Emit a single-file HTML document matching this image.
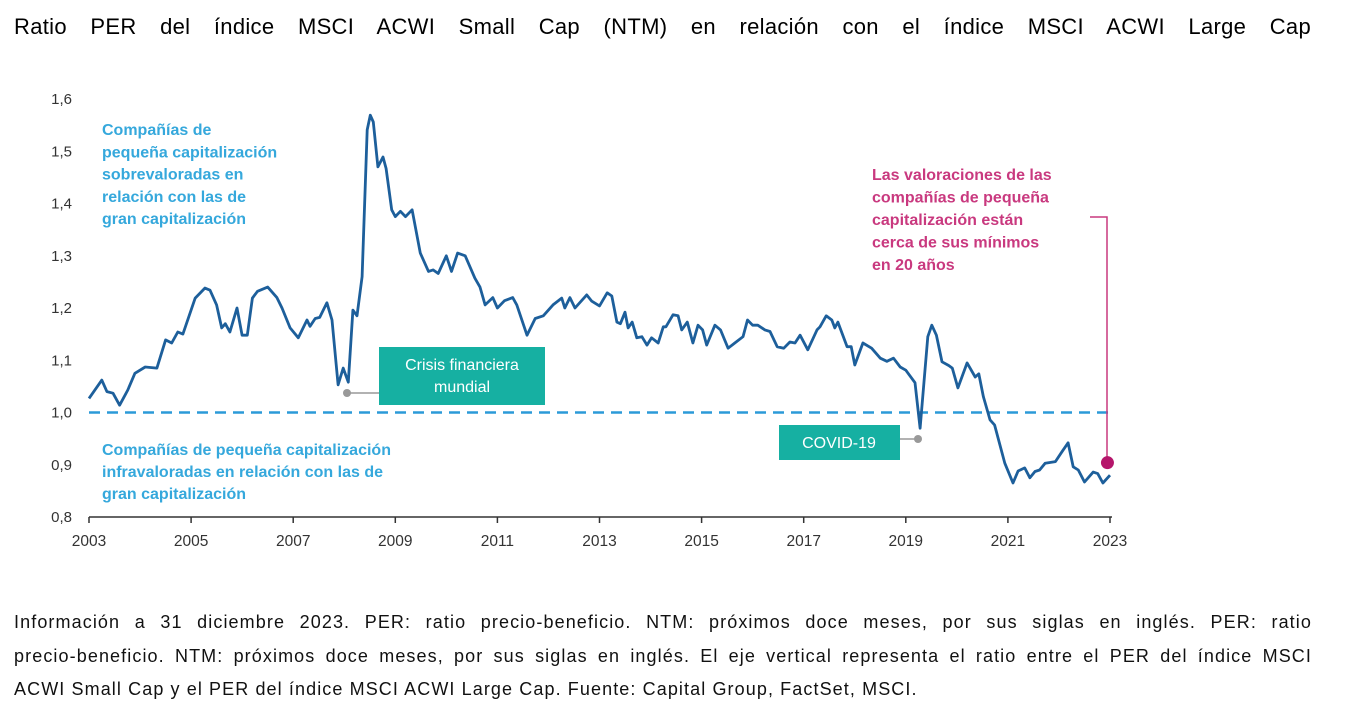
<!DOCTYPE html>
<html><head><meta charset="utf-8"><style>
html,body{margin:0;padding:0;background:#fff;width:1360px;height:725px;overflow:hidden}
.title{position:absolute;left:14px;top:14px;width:1297px;font:22px "Liberation Sans",sans-serif;color:#000;text-align:justify;text-align-last:justify;letter-spacing:0.3px}
.note{position:absolute;left:14px;top:606px;width:1298px;font:18px/33.5px "Liberation Sans",sans-serif;color:#111;letter-spacing:1.1px}
.note div{white-space:nowrap}
.note .j{text-align:justify;text-align-last:justify;white-space:normal}
</style></head><body>
<div class="title">Ratio PER del índice MSCI ACWI Small Cap (NTM) en relación con el índice MSCI ACWI Large Cap</div>
<svg id="chart" width="1360" height="600" style="position:absolute;left:0;top:0"></svg>
<div class="note"><div class="j">Información a 31 diciembre 2023. PER: ratio precio-beneficio. NTM: próximos doce meses, por sus siglas en inglés. PER: ratio</div><div class="j">precio-beneficio. NTM: próximos doce meses, por sus siglas en inglés. El eje vertical representa el ratio entre el PER del índice MSCI</div><div>ACWI Small Cap y el PER del índice MSCI ACWI Large Cap. Fuente: Capital Group, FactSet, MSCI.</div></div>
<script>
const dates=[2003.0,2003.25,2003.35,2003.47,2003.6,2003.76,2003.9,2004.1,2004.33,2004.5,2004.62,2004.74,2004.84,2005.08,2005.27,2005.37,2005.5,2005.6,2005.67,2005.76,2005.9,2006.0,2006.1,2006.2,2006.3,2006.5,2006.68,2006.78,2006.94,2007.1,2007.27,2007.33,2007.43,2007.52,2007.66,2007.76,2007.88,2007.98,2008.08,2008.17,2008.25,2008.35,2008.45,2008.51,2008.57,2008.66,2008.76,2008.82,2008.93,2009.0,2009.1,2009.2,2009.33,2009.49,2009.65,2009.74,2009.84,2010.0,2010.1,2010.22,2010.37,2010.56,2010.66,2010.76,2010.91,2011.0,2011.14,2011.3,2011.38,2011.58,2011.74,2011.9,2012.09,2012.26,2012.32,2012.42,2012.52,2012.75,2012.85,2013.0,2013.15,2013.24,2013.34,2013.41,2013.5,2013.56,2013.64,2013.73,2013.83,2013.93,2014.02,2014.15,2014.25,2014.3,2014.44,2014.54,2014.61,2014.72,2014.83,2014.93,2015.02,2015.1,2015.26,2015.37,2015.52,2015.65,2015.81,2015.9,2016.0,2016.1,2016.24,2016.34,2016.48,2016.61,2016.73,2016.83,2016.93,2017.08,2017.26,2017.32,2017.44,2017.55,2017.61,2017.67,2017.85,2017.93,2018.0,2018.16,2018.33,2018.5,2018.63,2018.76,2018.89,2019.0,2019.18,2019.28,2019.43,2019.51,2019.6,2019.71,2019.84,2019.91,2020.02,2020.2,2020.36,2020.43,2020.52,2020.65,2020.74,2020.94,2021.1,2021.2,2021.33,2021.43,2021.53,2021.62,2021.73,2021.93,2022.06,2022.18,2022.28,2022.38,2022.5,2022.67,2022.76,2022.86,2023.0];
const ratios=[1.027,1.062,1.04,1.037,1.014,1.043,1.075,1.087,1.085,1.139,1.133,1.154,1.15,1.219,1.238,1.234,1.206,1.162,1.17,1.154,1.2,1.148,1.148,1.219,1.232,1.24,1.22,1.2,1.162,1.143,1.177,1.165,1.18,1.182,1.21,1.177,1.053,1.085,1.058,1.196,1.185,1.26,1.541,1.569,1.556,1.47,1.489,1.467,1.388,1.375,1.385,1.375,1.388,1.305,1.27,1.273,1.266,1.30,1.27,1.305,1.30,1.257,1.24,1.206,1.22,1.2,1.214,1.22,1.206,1.148,1.18,1.185,1.206,1.219,1.2,1.22,1.2,1.225,1.213,1.204,1.229,1.223,1.173,1.17,1.192,1.162,1.173,1.143,1.145,1.129,1.143,1.133,1.164,1.164,1.187,1.185,1.158,1.173,1.133,1.167,1.158,1.129,1.167,1.158,1.123,1.133,1.145,1.177,1.167,1.167,1.158,1.155,1.126,1.123,1.135,1.133,1.148,1.12,1.158,1.164,1.185,1.177,1.162,1.173,1.126,1.126,1.091,1.133,1.123,1.104,1.098,1.104,1.087,1.081,1.057,0.97,1.145,1.167,1.148,1.097,1.09,1.085,1.047,1.095,1.068,1.074,1.03,0.986,0.976,0.903,0.865,0.888,0.894,0.875,0.887,0.89,0.903,0.906,0.925,0.942,0.896,0.89,0.867,0.886,0.883,0.865,0.88];
const yTicks=[0.8,0.9,1.0,1.1,1.2,1.3,1.4,1.5,1.6];
const yTickLabels=["0,8","0,9","1,0","1,1","1,2","1,3","1,4","1,5","1,6"];
const xTicks=[2003,2005,2007,2009,2011,2013,2015,2017,2019,2021,2023];
const lastPoint=[2022.95,0.904];
const svg=document.getElementById('chart');const NS='http://www.w3.org/2000/svg';
const X=y=>89+(y-2003)*51.05;const Y=v=>99+(1.6-v)*522.5;
function el(t,a,txt){const e=document.createElementNS(NS,t);for(const k in a)e.setAttribute(k,a[k]);if(txt!==undefined)e.textContent=txt;svg.appendChild(e);return e;}
const F='"Liberation Sans",sans-serif';
yTicks.forEach((v,i)=>{const t=el('text',{x:72,y:Y(v)+5,'text-anchor':'end','font-family':F,'font-size':15,fill:'#333'},yTickLabels[i]);

});
const ax=el('line',{x1:89,x2:1112,y1:Y(0.8),y2:Y(0.8),stroke:'#333','stroke-width':1.5});


xTicks.forEach(v=>{el('line',{x1:X(v),x2:X(v),y1:Y(0.8),y2:Y(0.8)+6,stroke:'#333','stroke-width':1.5});
const t=el('text',{x:X(v),y:546,'text-anchor':'middle','font-family':F,'font-size':15.5,fill:'#333'},String(v));

});
const dl=el('line',{x1:89,x2:1112,y1:Y(1.0),y2:Y(1.0),stroke:'#2b9ad8','stroke-width':2.5,'stroke-dasharray':'11 7'});


let d='';dates.forEach((t,i)=>{d+=(i?'L':'M')+X(t).toFixed(1)+','+Y(ratios[i]).toFixed(1);});
const p=el('path',{d:d,fill:'none',stroke:'#1d5f9b','stroke-width':2.8,'stroke-linejoin':'round'});


function lines(arr,x,y0,dy,col,name,anchor){const g=el('g',{});
arr.forEach((s,i)=>{const t=document.createElementNS(NS,'text');t.setAttribute('x',x);t.setAttribute('y',y0+i*dy);t.setAttribute('font-family',F);t.setAttribute('font-size',16);t.setAttribute('font-weight','bold');t.setAttribute('fill',col);if(anchor)t.setAttribute('text-anchor',anchor);t.textContent=s;g.appendChild(t);});}
lines(["Compañías de","pequeña capitalización","sobrevaloradas en","relación con las de","gran capitalización"],102,135,22.3,'#35a8dc','overvalued-annotation');
lines(["Compañías de pequeña capitalización","infravaloradas en relación con las de","gran capitalización"],102,455,22,'#35a8dc','undervalued-annotation');
lines(["Las valoraciones de las","compañías de pequeña","capitalización están","cerca de sus mínimos","en 20 años"],872,180,22.5,'#c9397f','lows-annotation');
el('polyline',{points:'1090,217 1107,217 1107,463',fill:'none',stroke:'#c9397f','stroke-width':1.5});
const dot=el('circle',{cx:X(lastPoint[0]),cy:Y(lastPoint[1]),r:6.5,fill:'#b5166b'});


el('line',{x1:347,x2:379,y1:393,y2:393,stroke:'#999','stroke-width':1.5});el('circle',{cx:347,cy:393,r:4,fill:'#999'});
const b1=el('rect',{x:379,y:347,width:166,height:58,fill:'#16b0a2'});


el('text',{x:462,y:370,'text-anchor':'middle','font-family':F,'font-size':16,fill:'#fff'},'Crisis financiera');
el('text',{x:462,y:392,'text-anchor':'middle','font-family':F,'font-size':16,fill:'#fff'},'mundial');
el('line',{x1:900,x2:918,y1:439,y2:439,stroke:'#999','stroke-width':1.5});el('circle',{cx:918,cy:439,r:4,fill:'#999'});
const b2=el('rect',{x:779,y:425,width:121,height:35,fill:'#16b0a2'});


el('text',{x:839,y:448,'text-anchor':'middle','font-family':F,'font-size':16,fill:'#fff'},'COVID-19');
</script>
</body></html>
